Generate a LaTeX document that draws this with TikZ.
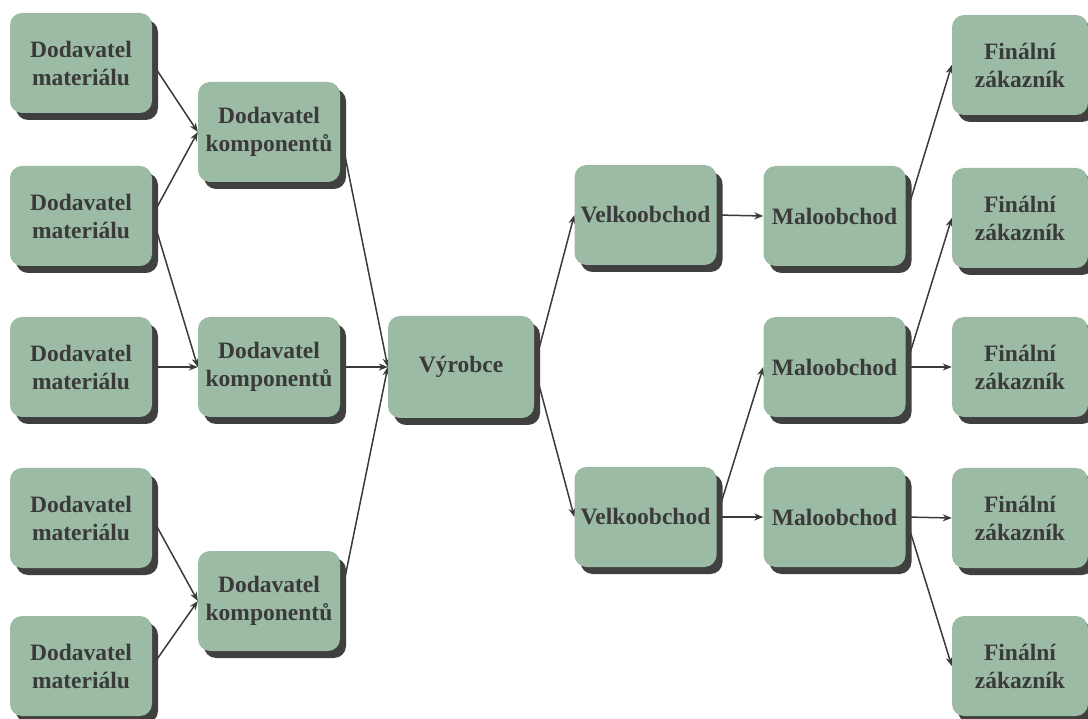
\documentclass[tikz,border=0pt]{standalone}
\usepackage{fontspec}
\setmainfont{Liberation Serif}
\usetikzlibrary{shadows,arrows.meta}
\definecolor{boxgreen}{HTML}{9CBBA4}
\definecolor{shadowgray}{HTML}{404040}
\definecolor{textgray}{HTML}{3A3A3A}
\definecolor{linegray}{HTML}{3A3A3A}
\pgfdeclarelayer{background}
\pgfsetlayers{background,main}
\tikzset{
  box/.style={rectangle, rounded corners=12pt, fill=boxgreen, draw=none,
    minimum width=142pt, minimum height=100pt, align=center, text=textgray,
    font=\fontsize{23.5}{28}\selectfont\bfseries, inner sep=0pt,
    drop shadow={shadow xshift=6pt, shadow yshift=-7pt, fill=shadowgray, opacity=1}},
  conn/.style={draw=linegray, line width=1.5pt, -{Stealth[length=9pt,width=7pt]}}
}
\begin{document}
\begin{tikzpicture}[x=1pt,y=-1pt]
\useasboundingbox (0,0) rectangle (1088,719);
% suppliers of material
\node[box] (m1) at (81,63)  {Dodavatel\\materiálu};
\node[box] (m2) at (81,216) {Dodavatel\\materiálu};
\node[box] (m3) at (81,367) {Dodavatel\\materiálu};
\node[box] (m4) at (81,518) {Dodavatel\\materiálu};
\node[box] (m5) at (81,666) {Dodavatel\\materiálu};
% suppliers of components
\node[box] (k1) at (269,132) {Dodavatel\\komponentů};
\node[box] (k2) at (269,367) {Dodavatel\\komponentů};
\node[box] (k3) at (269,601) {Dodavatel\\komponentů};
% producer
\node[box, minimum width=146pt, minimum height=102pt] (v) at (461,367) {Výrobce};
% wholesale
\node[box] (w1) at (645.5,215) {Velkoobchod};
\node[box] (w2) at (645.5,517) {Velkoobchod};
% retail
\node[box] (r1) at (834.5,216) {Maloobchod};
\node[box] (r2) at (834.5,367) {Maloobchod};
\node[box] (r3) at (834.5,517) {Maloobchod};
% final customers
\node[box, minimum width=136pt] (f1) at (1020,65)  {Finální\\zákazník};
\node[box, minimum width=136pt] (f2) at (1020,218) {Finální\\zákazník};
\node[box, minimum width=136pt] (f3) at (1020,367) {Finální\\zákazník};
\node[box, minimum width=136pt] (f4) at (1020,518) {Finální\\zákazník};
\node[box, minimum width=136pt] (f5) at (1020,666) {Finální\\zákazník};
\begin{pgfonlayer}{background}
\draw[conn] (m1.east) -- (k1.west);
\draw[conn] (m2.east) -- (k1.west);
\draw[conn] (m2.east) -- (k2.west);
\draw[conn] (m3.east) -- (k2.west);
\draw[conn] (m4.east) -- (k3.west);
\draw[conn] (m5.east) -- (k3.west);
\draw[conn] (k1.east) -- (v.west);
\draw[conn] (k2.east) -- (v.west);
\draw[conn] (k3.east) -- (v.west);
\draw[conn] (v.east) -- (w1.west);
\draw[conn] (v.east) -- (w2.west);
\draw[conn] (w1.east) -- (r1.west);
\draw[conn] (w2.east) -- (r2.west);
\draw[conn] (w2.east) -- (r3.west);
\draw[conn] (r1.east) -- (f1.west);
\draw[conn] (r2.east) -- (f2.west);
\draw[conn] (r2.east) -- (f3.west);
\draw[conn] (r3.east) -- (f4.west);
\draw[conn] (r3.east) -- (f5.west);
\end{pgfonlayer}
\end{tikzpicture}
\end{document}
